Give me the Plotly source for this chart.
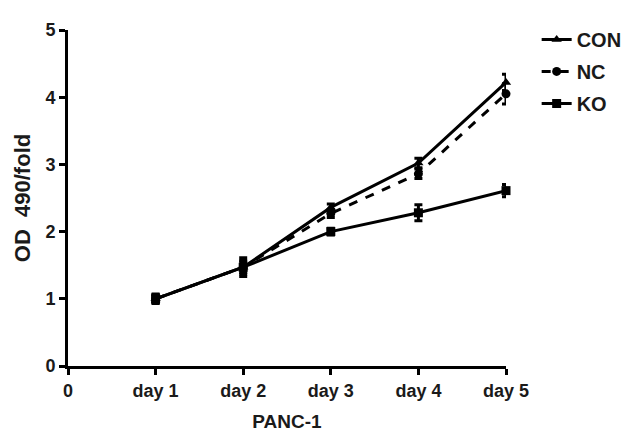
import plotly.graph_objects as go

days = ["day 1", "day 2", "day 3", "day 4", "day 5"]
x_ticktext = ["0"] + days
con = [1.00, 1.47, 2.36, 3.02, 4.22]
con_err = [0.06, 0.14, 0.05, 0.07, 0.12]
nc = [1.00, 1.47, 2.27, 2.86, 4.05]
nc_err = [0.06, 0.10, 0.06, 0.07, 0.15]
ko = [1.00, 1.47, 2.00, 2.28, 2.61]
ko_err = [0.07, 0.08, 0.05, 0.12, 0.09]

xpos = list(range(1, len(days) + 1))
FAM = "Liberation Sans, Arial"

fig = go.Figure()
series = [
    ("CON", con, con_err, "triangle-up", "solid"),
    ("NC", nc, nc_err, "circle", "dash"),
    ("KO", ko, ko_err, "square", "solid"),
]
for name, vals, err, sym, dash in series:
    fig.add_trace(go.Scatter(
        x=xpos, y=vals, name=name, legendgroup=name, mode="lines+markers",
        line=dict(color="black", width=3, dash=dash),
        marker=dict(symbol=sym, size=9, color="black"),
        error_y=dict(type="data", array=err, visible=True, color="black",
                     thickness=3, width=4),
        cliponaxis=False,
    ))

tickfont = dict(family=FAM, size=18, color="#1a1a1a", weight="bold")

fig.update_layout(
    width=641, height=438,
    margin=dict(l=60, r=143, t=12, b=80),
    plot_bgcolor="white", paper_bgcolor="white",
    showlegend=True,
    legend=dict(x=1.07, y=1.03, xanchor="left", yanchor="top",
                font=dict(family=FAM, size=20, color="#1a1a1a", weight="bold"),
                itemwidth=30, tracegroupgap=3, bgcolor="rgba(0,0,0,0)"),
    xaxis=dict(range=[0, 5], tickvals=list(range(0, 6)), ticktext=x_ticktext,
               showline=True, linewidth=3, linecolor="black", showgrid=False,
               zeroline=False, ticks="outside", ticklen=6, tickwidth=2.5,
               tickcolor="black", tickfont=tickfont,
               title=dict(text="PANC-1", standoff=16,
                          font=dict(family=FAM, size=19, color="#1a1a1a", weight="bold"))),
    yaxis=dict(range=[0, 5], tickvals=list(range(0, 6)),
               showline=True, linewidth=3, linecolor="black", showgrid=False,
               zeroline=False, ticks="outside", ticklen=6, tickwidth=2.5,
               tickcolor="black", tickfont=tickfont,
               title=dict(text="OD\u00a0\u00a0490/fold", standoff=9,
                          font=dict(family=FAM, size=22, color="#1a1a1a", weight="bold"))),
)

fig.write_html("out.html")
